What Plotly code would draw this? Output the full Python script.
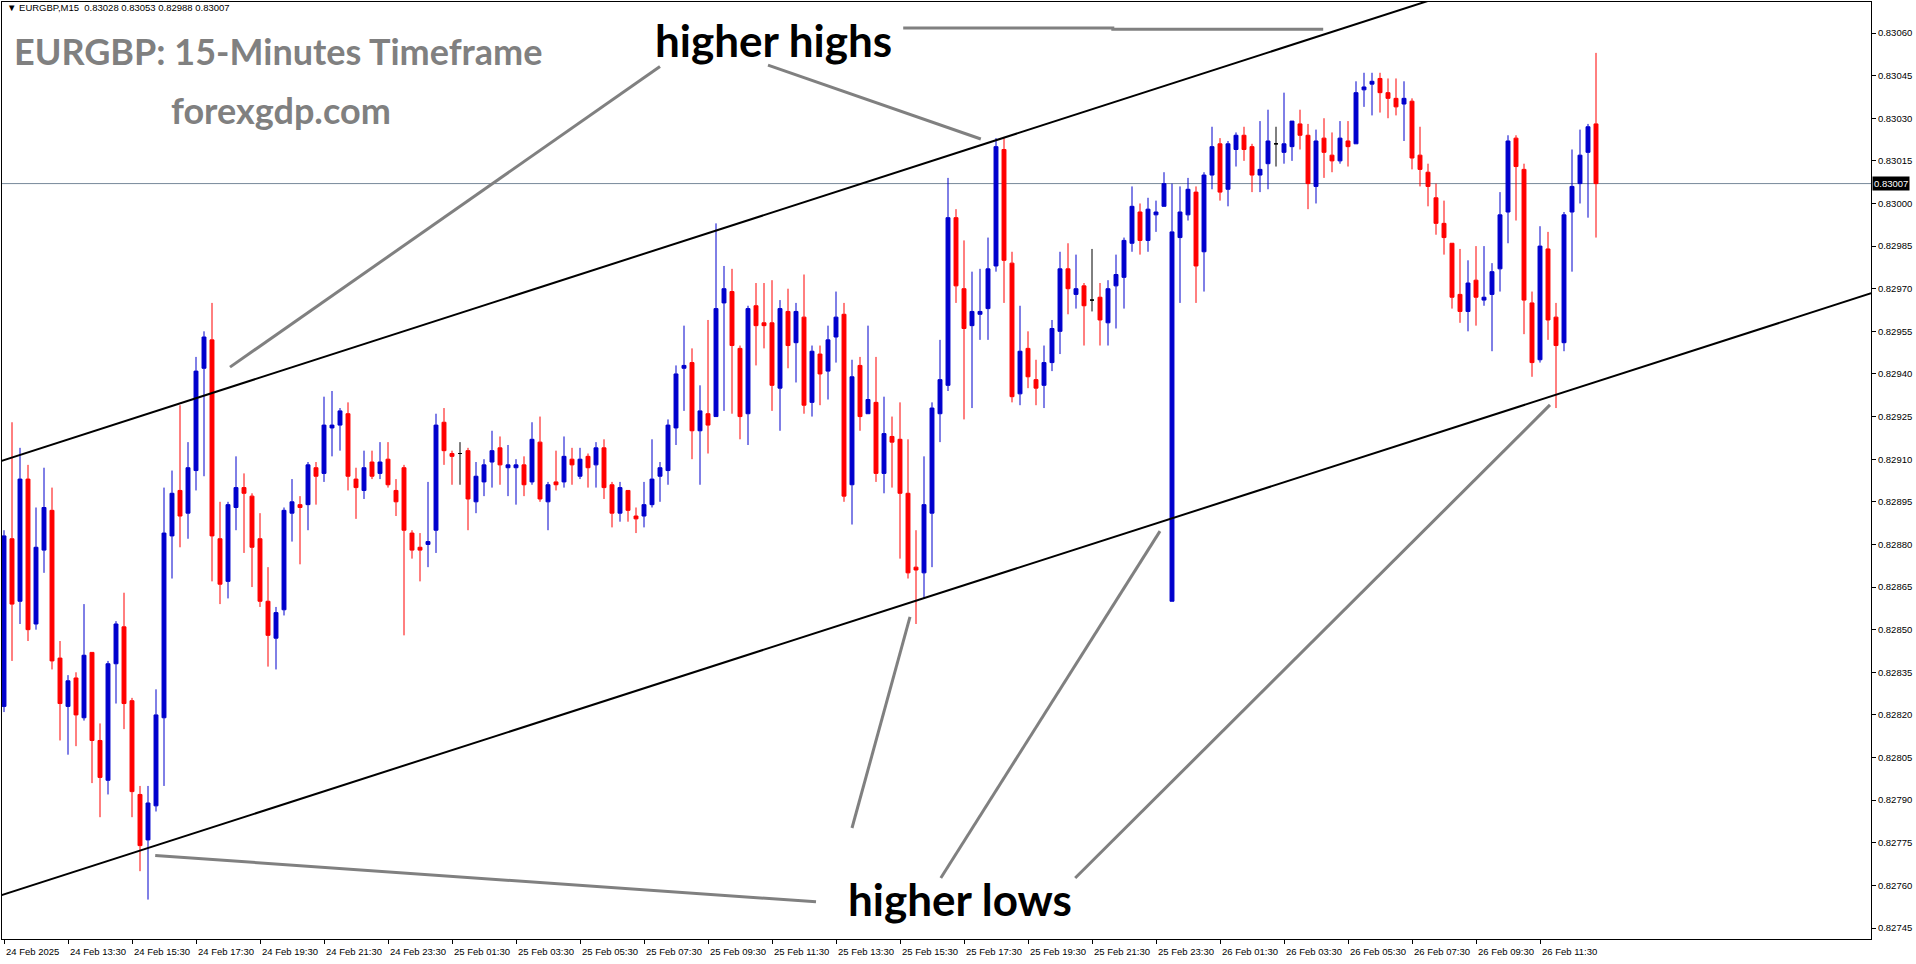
import plotly.graph_objects as go

# ---------------- data (EURGBP M15, bar 0 = 24 Feb 11:30) ----------------
opens = [0.82823,0.82882,0.82860,0.82903,0.82852,0.82878,0.82892,0.82840,0.82823,0.82833,
         0.82819,0.82842,0.82811,0.82797,0.82838,0.82851,0.82825,0.82792,0.82776,0.82788,
         0.82819,0.82883,0.82899,0.82891,0.82906,0.82942,0.82952,0.82882,0.82867,0.82893,
         0.82900,0.82897,0.82882,0.82860,0.82847,0.82857,0.82891,0.82894,0.82894,0.82907,
         0.82905,0.82921,0.82922,0.82926,0.82903,0.82899,0.82909,0.82905,0.82910,0.82899,
         0.82907,0.82884,0.82879,0.82880,0.82885,0.82923,0.82912,0.82912,0.82913,0.82895,
         0.82902,0.82909,0.82914,0.82907,0.82907,0.82908,0.82902,0.82916,0.82895,0.82902,
         0.82902,0.82910,0.82904,0.82911,0.82908,0.82914,0.82901,0.82891,0.82899,0.82890,
         0.82890,0.82894,0.82904,0.82906,0.82921,0.82942,0.82944,0.82920,0.82926,0.82925,
         0.82965,0.82969,0.82949,0.82926,0.82964,0.82958,0.82958,0.82935,0.82962,0.82951,
         0.82960,0.82930,0.82947,0.82941,0.82953,0.82961,0.82901,0.82943,0.82926,0.82930,
         0.82905,0.82918,0.82917,0.82898,0.82872,0.82870,0.82891,0.82926,0.82936,0.82995,
         0.82970,0.82957,0.82961,0.82963,0.82978,0.83019,0.82979,0.82933,0.82949,0.82938,
         0.82936,0.82944,0.82955,0.82977,0.82968,0.82971,0.82966,0.82967,0.82958,0.82971,
         0.82974,0.82986,0.82997,0.82987,0.82996,0.82999,0.82860,0.82988,0.82996,0.83004,
         0.82983,0.83010,0.83021,0.83005,0.83019,0.83024,0.83020,0.83010,0.83014,0.83021,
         0.83018,0.83020,0.83028,0.83024,0.83006,0.83023,0.83017,0.83015,0.83022,0.83021,
         0.83040,0.83042,0.83044,0.83039,0.83037,0.83035,0.83036,0.83017,0.83011,0.83002,
         0.82993,0.82986,0.82968,0.82962,0.82973,0.82966,0.82968,0.82977,0.82997,0.83023,
         0.83012,0.82965,0.82945,0.82984,0.82960,0.82951,0.82997,0.83007,0.83018,0.83028]
highs = [0.82885,0.82923,0.82914,0.82908,0.82893,0.82907,0.82900,0.82846,0.82834,0.82835,
         0.82859,0.82842,0.82817,0.82839,0.82853,0.82863,0.82826,0.82795,0.82795,0.82829,
         0.82900,0.82906,0.82929,0.82916,0.82946,0.82955,0.82965,0.82895,0.82895,0.82911,
         0.82905,0.82898,0.82891,0.82872,0.82858,0.82893,0.82903,0.82897,0.82909,0.82909,
         0.82932,0.82934,0.82928,0.82930,0.82907,0.82913,0.82913,0.82916,0.82916,0.82903,
         0.82908,0.82885,0.82884,0.82902,0.82926,0.82928,0.82913,0.82916,0.82914,0.82909,
         0.82910,0.82920,0.82918,0.82915,0.82910,0.82911,0.82923,0.82925,0.82902,0.82913,
         0.82918,0.82914,0.82914,0.82912,0.82916,0.82917,0.82902,0.82902,0.82899,0.82893,
         0.82902,0.82917,0.82909,0.82924,0.82943,0.82957,0.82949,0.82936,0.82959,0.82993,
         0.82978,0.82977,0.82950,0.82964,0.82972,0.82972,0.82973,0.82966,0.82970,0.82965,
         0.82975,0.82950,0.82950,0.82957,0.82969,0.82965,0.82945,0.82946,0.82957,0.82946,
         0.82932,0.82925,0.82930,0.82917,0.82885,0.82911,0.82930,0.82952,0.83009,0.82998,
         0.82987,0.82976,0.82977,0.82988,0.83023,0.83023,0.82983,0.82964,0.82955,0.82945,
         0.82950,0.82959,0.82983,0.82986,0.82982,0.82972,0.82984,0.82972,0.82973,0.82982,
         0.82988,0.83006,0.83000,0.83002,0.83001,0.83011,0.83007,0.83006,0.83009,0.83006,
         0.83011,0.83027,0.83023,0.83022,0.83025,0.83027,0.83021,0.83029,0.83033,0.83027,
         0.83039,0.83029,0.83033,0.83028,0.83026,0.83030,0.83025,0.83029,0.83029,0.83043,
         0.83046,0.83046,0.83046,0.83044,0.83044,0.83043,0.83037,0.83027,0.83014,0.83007,
         0.83001,0.82986,0.82984,0.82980,0.82985,0.82985,0.82979,0.83004,0.83024,0.83024,
         0.83014,0.82969,0.82992,0.82990,0.82965,0.82997,0.83019,0.83026,0.83028,0.83053]
lows = [0.82821,0.82839,0.82852,0.82846,0.82850,0.82870,0.82836,0.82811,0.82806,0.82809,
        0.82818,0.82796,0.82784,0.82792,0.82824,0.82815,0.82784,0.82765,0.82755,0.82786,
        0.82795,0.82868,0.82879,0.82882,0.82899,0.82904,0.82867,0.82859,0.82861,0.82885,
        0.82877,0.82865,0.82858,0.82837,0.82836,0.82855,0.82881,0.82873,0.82885,0.82894,
        0.82902,0.82911,0.82913,0.82899,0.82889,0.82896,0.82903,0.82903,0.82900,0.82890,
        0.82848,0.82875,0.82867,0.82872,0.82877,0.82908,0.82901,0.82901,0.82885,0.82891,
        0.82897,0.82900,0.82901,0.82897,0.82894,0.82897,0.82901,0.82895,0.82885,0.82899,
        0.82900,0.82901,0.82903,0.82900,0.82900,0.82896,0.82886,0.82888,0.82888,0.82884,
        0.82886,0.82893,0.82895,0.82901,0.82915,0.82927,0.82910,0.82901,0.82912,0.82925,
        0.82927,0.82926,0.82917,0.82915,0.82943,0.82949,0.82927,0.82920,0.82942,0.82937,
        0.82926,0.82925,0.82929,0.82931,0.82944,0.82895,0.82887,0.82920,0.82926,0.82902,
        0.82898,0.82900,0.82875,0.82868,0.82852,0.82861,0.82872,0.82916,0.82934,0.82965,
        0.82924,0.82928,0.82952,0.82952,0.82976,0.82965,0.82930,0.82929,0.82935,0.82929,
        0.82928,0.82941,0.82947,0.82961,0.82963,0.82950,0.82962,0.82950,0.82950,0.82956,
        0.82963,0.82983,0.82982,0.82983,0.82990,0.82999,0.82860,0.82965,0.82994,0.82965,
        0.82969,0.83005,0.83001,0.82999,0.83013,0.83015,0.83004,0.83004,0.83005,0.83013,
        0.83014,0.83015,0.83019,0.82998,0.83000,0.83009,0.83011,0.83014,0.83013,0.83021,
        0.83034,0.83031,0.83032,0.83030,0.83031,0.83022,0.83012,0.83006,0.82999,0.82989,
        0.82982,0.82963,0.82958,0.82955,0.82957,0.82964,0.82948,0.82969,0.82986,0.82994,
        0.82954,0.82939,0.82944,0.82952,0.82928,0.82948,0.82976,0.83000,0.82995,0.82988]
closes = [0.82883,0.82859,0.82903,0.82850,0.82879,0.82893,0.82839,0.82824,0.82832,0.82820,
          0.82841,0.82811,0.82798,0.82838,0.82852,0.82824,0.82793,0.82774,0.82789,0.82820,
          0.82884,0.82898,0.82890,0.82907,0.82941,0.82953,0.82883,0.82866,0.82894,0.82900,
          0.82898,0.82879,0.82860,0.82848,0.82856,0.82892,0.82895,0.82893,0.82908,0.82904,
          0.82922,0.82922,0.82927,0.82904,0.82900,0.82907,0.82904,0.82909,0.82901,0.82895,
          0.82885,0.82878,0.82878,0.82881,0.82922,0.82913,0.82911,0.82912,0.82896,0.82904,
          0.82908,0.82913,0.82908,0.82908,0.82908,0.82901,0.82917,0.82896,0.82901,0.82901,
          0.82911,0.82908,0.82910,0.82907,0.82914,0.82900,0.82891,0.82900,0.82892,0.82889,
          0.82894,0.82903,0.82907,0.82922,0.82940,0.82943,0.82920,0.82927,0.82922,0.82963,
          0.82970,0.82950,0.82925,0.82963,0.82957,0.82957,0.82936,0.82963,0.82950,0.82962,
          0.82929,0.82948,0.82940,0.82952,0.82960,0.82897,0.82939,0.82925,0.82931,0.82905,
          0.82919,0.82916,0.82898,0.82870,0.82871,0.82894,0.82928,0.82938,0.82995,0.82971,
          0.82956,0.82962,0.82962,0.82977,0.83020,0.82980,0.82932,0.82948,0.82939,0.82935,
          0.82944,0.82956,0.82977,0.82970,0.82970,0.82964,0.82966,0.82959,0.82970,0.82975,
          0.82987,0.82999,0.82987,0.82998,0.82997,0.83007,0.82990,0.82997,0.83005,0.82978,
          0.83010,0.83020,0.83004,0.83021,0.83024,0.83019,0.83010,0.83012,0.83022,0.83021,
          0.83021,0.83029,0.83024,0.83007,0.83022,0.83018,0.83015,0.83023,0.83020,0.83039,
          0.83041,0.83043,0.83039,0.83037,0.83034,0.83037,0.83016,0.83012,0.83006,0.82993,
          0.82988,0.82967,0.82962,0.82972,0.82967,0.82967,0.82976,0.82996,0.83022,0.83013,
          0.82966,0.82944,0.82985,0.82959,0.82950,0.82996,0.83006,0.83017,0.83027,0.83007]

tick_bars = [0, 8, 16, 24, 32, 40, 48, 56, 64, 72, 80, 88, 96, 104, 112, 120, 128,
             136, 144, 152, 160, 168, 176, 184, 192]
tick_labels = ["24 Feb 2025", "24 Feb 13:30", "24 Feb 15:30", "24 Feb 17:30", "24 Feb 19:30",
               "24 Feb 21:30", "24 Feb 23:30", "25 Feb 01:30", "25 Feb 03:30", "25 Feb 05:30",
               "25 Feb 07:30", "25 Feb 09:30", "25 Feb 11:30", "25 Feb 13:30", "25 Feb 15:30",
               "25 Feb 17:30", "25 Feb 19:30", "25 Feb 21:30", "25 Feb 23:30", "26 Feb 01:30",
               "26 Feb 03:30", "26 Feb 05:30", "26 Feb 07:30", "26 Feb 09:30", "26 Feb 11:30"]
price_ticks = [0.82745, 0.82760, 0.82775, 0.82790, 0.82805, 0.82820, 0.82835, 0.82850,
               0.82865, 0.82880, 0.82895, 0.82910, 0.82925, 0.82940, 0.82955, 0.82970,
               0.82985, 0.83000, 0.83015, 0.83030, 0.83045, 0.83060]

# trend channel (bar index, price)
upper_channel_bar = [-0.5, 180.0]
upper_channel_price = [0.829092, 0.830731]
lower_channel_bar = [-0.5, 233.4]
lower_channel_price = [0.827564, 0.829684]

# grey pointer lines (bar index, price)
pointers = [
    ([28.25, 82.0], [0.829424, 0.830482]),
    ([95.5, 122.1], [0.830487, 0.830227]),
    ([112.4, 138.6, 138.6, 164.9], [0.830618, 0.830618, 0.830613, 0.830613]),
    ([18.9, 101.5], [0.827705, 0.827542]),
    ([106.0, 113.25], [0.827802, 0.828545]),
    ([117.1, 144.5], [0.827626, 0.828847]),
    ([133.9, 193.25], [0.827626, 0.829291]),
]

# ---------------- figure ----------------
W, H = 1916, 964
ML, MR, MT, MB = 2, 45, 2, 25
PW, PH = W - ML - MR, H - MT - MB

def pxx(X):
    return (X - ML) / PW

def pxy(Y):
    return 1 - (Y - MT) / PH

BLUE = "#0000CD"
RED = "#FF0000"
bars = list(range(len(opens)))
groups = {
    BLUE: [i for i in bars if closes[i] > opens[i]],
    RED: [i for i in bars if closes[i] < opens[i]],
    "#000000": [i for i in bars if closes[i] == opens[i]],
}

fig = go.Figure()
for color, idx in groups.items():
    if not idx:
        continue
    fig.add_trace(go.Candlestick(
        x=[bars[i] for i in idx],
        open=[opens[i] for i in idx], high=[highs[i] for i in idx],
        low=[lows[i] for i in idx], close=[closes[i] for i in idx],
        increasing=dict(line=dict(color=color, width=1), fillcolor=color),
        decreasing=dict(line=dict(color=color, width=1), fillcolor=color),
        whiskerwidth=0, hoverinfo="skip", showlegend=False))

for bx, py in [(upper_channel_bar, upper_channel_price), (lower_channel_bar, lower_channel_price)]:
    fig.add_trace(go.Scatter(x=bx, y=py, mode="lines", line=dict(color="black", width=2),
                             hoverinfo="skip", showlegend=False))
for bx, py in pointers:
    fig.add_trace(go.Scatter(x=bx, y=py, mode="lines", line=dict(color="#808080", width=3),
                             hoverinfo="skip", showlegend=False))

last_close = closes[-1]
fig.add_shape(type="line", xref="paper", yref="y", x0=0, x1=1, y0=last_close, y1=last_close,
              line=dict(color="#778899", width=1), layer="below")

axis_font = dict(family="Liberation Sans, Arial, sans-serif", size=9.5, color="black")
annotations = []
for b, lab in zip(tick_bars, tick_labels):
    annotations.append(dict(x=b, xref="x", y=0, yref="paper", yshift=-12, text=lab,
                            xanchor="left", yanchor="middle", showarrow=False, xshift=0,
                            font=axis_font))
annotations.append(dict(x=1, xref="paper", xanchor="left", xshift=1, y=last_close, yref="y",
                        yanchor="middle", text=f"{last_close:.5f}", showarrow=False,
                        bgcolor="black", borderpad=1,
                        font=dict(family="Liberation Sans, Arial, sans-serif", size=9.5, color="white")))
annotations.append(dict(x=pxx(5), y=pxy(8), xref="paper", yref="paper", xanchor="left", yanchor="middle",
                        text=f"\u25BC EURGBP,M15  {opens[-1]:.5f} {highs[-1]:.5f} {lows[-1]:.5f} {closes[-1]:.5f}",
                        showarrow=False, font=axis_font))
title_font = dict(family="Lato, 'Open Sans', sans-serif", size=36, color="#808080")
annotations.append(dict(x=pxx(12), y=pxy(51), xref="paper", yref="paper", xanchor="left", yanchor="middle",
                        text="<b>EURGBP: 15-Minutes Timeframe</b>", showarrow=False, font=title_font))
annotations.append(dict(x=pxx(169), y=pxy(110), xref="paper", yref="paper", xanchor="left", yanchor="middle",
                        text="<b>forexgdp.com</b>", showarrow=False, font=title_font))
big_font = dict(family="Lato, 'Open Sans', sans-serif", size=44, color="black")
annotations.append(dict(x=pxx(773), y=pxy(40), xref="paper", yref="paper", xanchor="center", yanchor="middle",
                        text="<b>higher highs</b>", showarrow=False, font=big_font))
annotations.append(dict(x=pxx(960), y=pxy(899), xref="paper", yref="paper", xanchor="center", yanchor="middle",
                        text="<b>higher lows</b>", showarrow=False, font=big_font))

fig.update_layout(
    width=W, height=H, margin=dict(l=ML, r=MR, t=MT, b=MB),
    paper_bgcolor="white", plot_bgcolor="white", showlegend=False,
    boxgap=0.3, boxgroupgap=0.3,
    annotations=annotations,
    xaxis=dict(range=[-0.25, 233.375], showgrid=False, zeroline=False, showline=True, mirror=True,
               linecolor="black", linewidth=1, ticks="outside", ticklen=4, tickcolor="black",
               tickvals=tick_bars, showticklabels=False, rangeslider=dict(visible=False),
               fixedrange=True),
    yaxis=dict(range=[0.8274113, 0.8307091], side="right", showgrid=False, zeroline=False,
               showline=True, mirror=True, linecolor="black", linewidth=1, ticks="outside",
               ticklen=4, tickcolor="black", tickvals=price_ticks,
               ticktext=[f"{v:.5f}" for v in price_ticks], tickfont=axis_font,
               automargin=False, fixedrange=True),
)

fig.write_html("out.html", config={"displayModeBar": False},
               post_script="document.body.style.margin='0px';document.body.style.overflow='hidden';")
